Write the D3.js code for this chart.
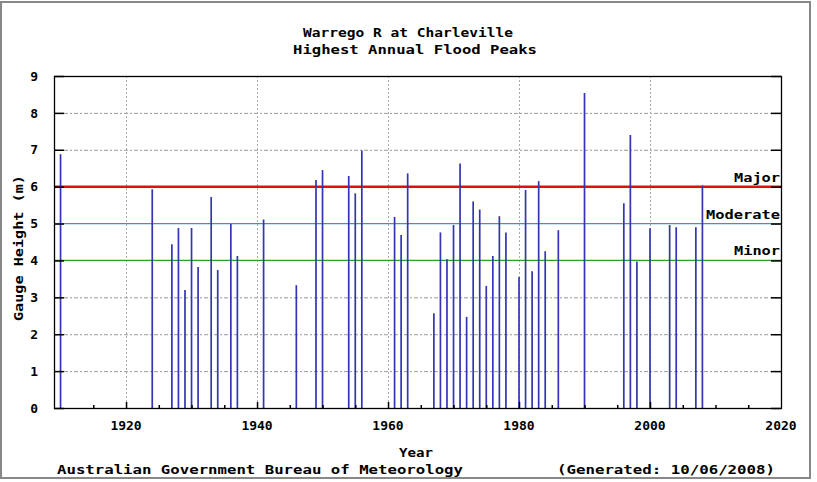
<!DOCTYPE html>
<html lang="en">
<head>
  <meta charset="UTF-8" />
  <title>Warrego R at Charleville</title>
  <script src="https://cdn.jsdelivr.net/npm/d3@7"></script>
  <style>
    body { margin: 0; background: #fff; }
    text { font-family: "DejaVu Sans Mono", monospace; font-weight: bold; fill: #000; }
  </style>
</head>
<body>
<svg id="chart"></svg>
<script>
// Flood peak data
const years = [1910, 1924, 1927, 1928, 1929, 1930, 1931, 1933, 1934, 1936,
  1937, 1941, 1946, 1949, 1950, 1954, 1955, 1956, 1961, 1962,
  1963, 1967, 1968, 1969, 1970, 1971, 1972, 1973, 1974, 1975,
  1976, 1977, 1978, 1980, 1981, 1982, 1983, 1984, 1986, 1990,
  1996, 1997, 1998, 2000, 2003, 2004, 2007, 2008];
const heights = [6.88, 5.93, 4.44, 4.88, 3.20, 4.88, 3.82, 5.72, 3.74, 4.99,
  4.12, 5.11, 3.33, 6.18, 6.45, 6.29, 5.82, 6.98, 5.18, 4.69,
  6.36, 2.57, 4.76, 4.03, 4.96, 6.63, 2.47, 5.60, 5.38, 3.31,
  4.12, 5.20, 4.76, 3.55, 5.91, 3.71, 6.15, 4.25, 4.82, 8.54,
  5.55, 7.40, 3.97, 4.87, 4.96, 4.90, 4.90, 6.03];

// flood class levels
const levelNames = ["Major", "Moderate", "Minor"];
const levelValues = [6, 5, 4];
const levelColors = ["#e01010", "#2a9ad6", "#2e9e2e"];

const xTickYears = [1920, 1940, 1960, 1980, 2000, 2020];
const yTicks = [0, 1, 2, 3, 4, 5, 6, 7, 8, 9];

const W = 817, H = 482;
const margin = {top: 76, right: 36, bottom: 74, left: 54};
const iw = W - margin.left - margin.right;
const ih = H - margin.top - margin.bottom;

const svg = d3.select("#chart").attr("width", W).attr("height", H);

// outer frame
svg.append("rect")
  .attr("x", 1).attr("y", 2).attr("width", 809).attr("height", 476)
  .attr("fill", "#fff").attr("stroke", "#888").attr("stroke-width", 2);

const g = svg.append("g").attr("transform", `translate(${margin.left},${margin.top})`);

const x = d3.scaleLinear().domain([1909, 2020]).range([0, iw]);
const y = d3.scaleLinear().domain([0, 9]).range([ih, 0]);

// grid
g.selectAll(".hgrid").data(yTicks.filter(d => d > 0 && d < 9 && !levelValues.includes(d)))
  .enter().append("line")
  .attr("x1", 0).attr("x2", iw)
  .attr("y1", d => y(d) + 0.5).attr("y2", d => y(d) + 0.5)
  .attr("stroke", "#999").attr("stroke-dasharray", "4,2,2,2");

g.selectAll(".vgrid").data(xTickYears.filter(d => d < 2020))
  .enter().append("line")
  .attr("x1", d => Math.round(x(d)) + 0.5).attr("x2", d => Math.round(x(d)) + 0.5)
  .attr("y1", 0).attr("y2", ih)
  .attr("stroke", "#aaa").attr("stroke-dasharray", "2,2");

// flood level lines
levelValues.forEach((v, i) => {
  g.append("line")
    .attr("x1", 0).attr("x2", iw)
    .attr("y1", y(v)).attr("y2", y(v))
    .attr("stroke", levelColors[i])
    .attr("stroke-width", i === 0 ? 2.5 : 1.2);
});

// peaks
g.selectAll(".peak").data(years)
  .enter().append("line")
  .attr("class", "peak")
  .attr("x1", d => x(d)).attr("x2", d => x(d))
  .attr("y1", ih).attr("y2", (d, i) => y(heights[i]))
  .attr("stroke", "#3434b4").attr("stroke-width", 1.7);

// level labels
const labelWidths = [46, 74, 46];
levelValues.forEach((v, i) => {
  g.append("text")
    .attr("x", iw - 1).attr("y", y(v) - 5)
    .attr("text-anchor", "end")
    .attr("font-size", 13)
    .attr("textLength", labelWidths[i]).attr("lengthAdjust", "spacingAndGlyphs")
    .text(levelNames[i]);
});

// axes frame
g.append("rect")
  .attr("x", 0.5).attr("y", 0.5).attr("width", iw).attr("height", ih)
  .attr("fill", "none").attr("stroke", "#000").attr("stroke-width", 1.3);

// y ticks both sides
const yAxisL = d3.axisLeft(y).tickValues(yTicks).tickSize(-10).tickPadding(16).tickFormat(d3.format("d"));
const yAxisR = d3.axisRight(y).tickValues(yTicks).tickSize(-10).tickFormat("");
const gl = g.append("g").call(yAxisL);
const gr = g.append("g").attr("transform", `translate(${iw},0)`).call(yAxisR);
[gl, gr].forEach(a => {
  a.select(".domain").remove();
  a.selectAll(".tick line").attr("stroke", "#000").attr("stroke-width", 1.5);
});
gl.selectAll(".tick text").attr("font-size", 13).attr("font-family", "DejaVu Sans Mono").attr("font-weight", "bold");

// x ticks
const minorYears = d3.range(1915, 2020, 5);
const xAxis = d3.axisBottom(x).tickValues(minorYears)
  .tickSize(0).tickFormat("");
const gx = g.append("g").attr("transform", `translate(0,${ih})`).call(xAxis);
gx.select(".domain").remove();
gx.selectAll(".tick").append("line")
  .attr("y1", 0).attr("y2", d => d % 20 === 0 ? -6 : -3)
  .attr("stroke", "#000").attr("stroke-width", 1.5);
g.selectAll(".xlab").data(xTickYears)
  .enter().append("text")
  .attr("x", d => x(d)).attr("y", ih + 22)
  .attr("text-anchor", "middle").attr("font-size", 13)
  .text(d => d);

// titles
svg.append("text").attr("x", 408).attr("y", 37).attr("text-anchor", "middle")
  .attr("font-size", 13).attr("textLength", 210).attr("lengthAdjust", "spacingAndGlyphs")
  .text("Warrego R at Charleville");
svg.append("text").attr("x", 415).attr("y", 54).attr("text-anchor", "middle")
  .attr("font-size", 13).attr("textLength", 244).attr("lengthAdjust", "spacingAndGlyphs")
  .text("Highest Annual Flood Peaks");

svg.append("text").attr("x", 416).attr("y", 457).attr("text-anchor", "middle")
  .attr("font-size", 13).attr("textLength", 34).attr("lengthAdjust", "spacingAndGlyphs")
  .text("Year");

svg.append("text")
  .attr("transform", "translate(23,248) rotate(-90)")
  .attr("text-anchor", "middle").attr("font-size", 13)
  .attr("textLength", 146).attr("lengthAdjust", "spacingAndGlyphs")
  .text("Gauge Height (m)");

svg.append("text").attr("x", 57).attr("y", 474)
  .attr("font-size", 13).attr("textLength", 406).attr("lengthAdjust", "spacingAndGlyphs")
  .text("Australian Government Bureau of Meteorology");
svg.append("text").attr("x", 775).attr("y", 474).attr("text-anchor", "end")
  .attr("font-size", 13).attr("textLength", 218).attr("lengthAdjust", "spacingAndGlyphs")
  .text("(Generated: 10/06/2008)");
</script>
</body>
</html>
